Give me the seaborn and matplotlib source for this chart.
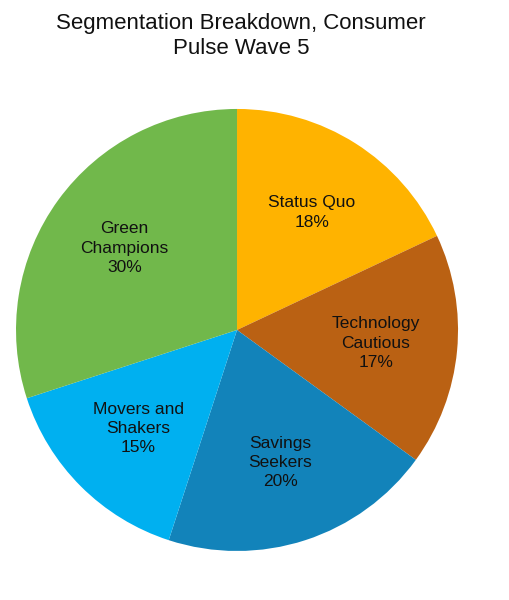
import matplotlib
matplotlib.use("Agg")
import matplotlib.pyplot as plt
import seaborn as sns

segments = ["Status Quo", "Technology\nCautious", "Savings\nSeekers", "Movers and\nShakers", "Green\nChampions"]
shares = [18, 17, 20, 15, 30]
colors = ["#FFB300", "#BA6113", "#1283BA", "#00B0F0", "#71B84B"]

sns.set_theme(style="white")
plt.rcParams["font.family"] = ["Liberation Sans", "DejaVu Sans"]

fig = plt.figure(figsize=(5.1, 6.0), dpi=100)
ax = fig.add_axes([0.0314, 0.0817, 0.8667, 0.7367])

labels = [f"{s}\n{v}%" for s, v in zip(segments, shares)]
wedges, texts = ax.pie(
    shares,
    labels=labels,
    colors=colors,
    startangle=90,
    counterclock=False,
    labeldistance=0.63,
    radius=1,
    wedgeprops={"linewidth": 0},
)
for t in texts:
    t.set_ha("center")
    t.set_va("center")
    t.set_fontsize(12.5)
    t.set_linespacing(1.35)
    t.set_color("#111111")

ax.set_xlim(-1, 1)
ax.set_ylim(-1, 1)
ax.set_aspect("equal")

fig.text(0.473, 0.979, "Segmentation Breakdown, Consumer\nPulse Wave 5",
         ha="center", va="top", fontsize=16, linespacing=1.3, color="#111111")

fig.savefig("out.png", dpi=100)
